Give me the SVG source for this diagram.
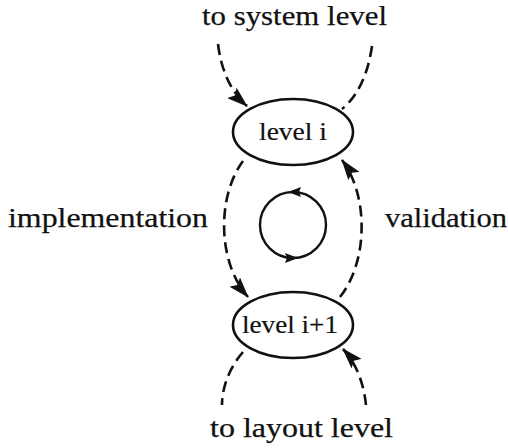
<svg xmlns="http://www.w3.org/2000/svg" width="508" height="448" viewBox="0 0 508 448">
  <style>
    .lbl { font-family: "Liberation Serif", "DejaVu Serif", serif; font-size: 28px; fill: #111; stroke: #111; stroke-width: 0.25; }
    .nodetxt { font-family: "Liberation Serif", "DejaVu Serif", serif; font-size: 26px; fill: #111; stroke: #111; stroke-width: 0.2; text-anchor: middle; }
    .node { fill: #fff; stroke: #111; stroke-width: 2.6; }
    .dash { fill: none; stroke: #111; stroke-width: 2.6; stroke-dasharray: 11 6; }
    .solid { fill: none; stroke: #111; stroke-width: 2.4; }
  </style>
  <defs>
    <marker id="arrow" viewBox="0 0 21 14" refX="20" refY="7" markerWidth="21" markerHeight="14" markerUnits="userSpaceOnUse" orient="auto">
      <path d="M0,0 L21,7 L0,14 L4,7 Z" fill="#111"/>
    </marker>
  </defs>

  <rect width="508" height="448" fill="#fff"/>

  <!-- connectors -->
  <g id="connectors">
    <path class="dash" d="M218,44 C221,70 231,92 247,106" marker-end="url(#arrow)"/>
    <path class="dash" d="M372,46 C368,74 358,96 342,109"/>
    <path class="dash" d="M243,161 C217,196 217,262 248,297" marker-end="url(#arrow)"/>
    <path class="dash" d="M340,297 C368,262 369,196 342,160" marker-end="url(#arrow)"/>
    <path class="dash" d="M243,352 C229,368 222,388 222,405"/>
    <path class="dash" d="M366,405 C364,385 357,364 343,349" marker-end="url(#arrow)"/>
  </g>

  <!-- iteration cycle -->
  <g id="cycle">
    <circle class="solid" cx="293" cy="225" r="33"/>
    <path d="M288,192 L301,187 L299,192 L301,197 Z" fill="#111"/>
    <path d="M298,258 L285,253 L287,258 L285,263 Z" fill="#111"/>
  </g>

  <g id="level-i">
    <ellipse class="node" cx="293" cy="132" rx="60" ry="33"/>
    <text class="nodetxt" x="293" y="140" textLength="68" lengthAdjust="spacingAndGlyphs">level i</text>
  </g>

  <g id="level-i1">
    <ellipse class="node" cx="293" cy="325" rx="60" ry="33"/>
    <text class="nodetxt" x="290" y="333" textLength="96" lengthAdjust="spacingAndGlyphs">level i+1</text>
  </g>

  <g id="labels">
    <text class="lbl" x="202" y="25" textLength="185" lengthAdjust="spacingAndGlyphs">to system level</text>
    <text class="lbl" x="8" y="227" textLength="200" lengthAdjust="spacingAndGlyphs">implementation</text>
    <text class="lbl" x="385" y="227" textLength="122" lengthAdjust="spacingAndGlyphs">validation</text>
    <text class="lbl" x="210" y="437" textLength="183" lengthAdjust="spacingAndGlyphs">to layout level</text>
  </g>
</svg>
